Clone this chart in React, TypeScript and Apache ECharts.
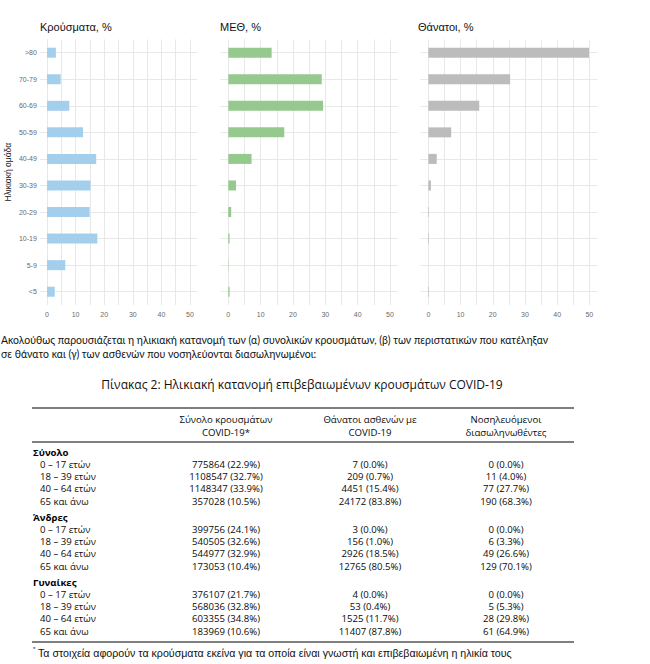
import React, { useEffect, useRef } from "react";
import * as echarts from "echarts";

const ageGroups = ["<5", "5-9", "10-19", "20-29", "30-39", "40-49", "50-59", "60-69", "70-79", ">80"];
const casesPct = [2.7, 6.4, 17.6, 14.9, 15.2, 17.2, 12.6, 7.8, 4.8, 3.1];
const icuPct = [0.4, 0.1, 0.4, 0.9, 2.4, 7.2, 17.3, 29.3, 28.9, 13.4];
const deathsPct = [0.2, 0.0, 0.2, 0.2, 0.8, 2.6, 7.1, 15.8, 25.4, 49.9];
const panelTitles = ["Κρούσματα, %", "ΜΕΘ, %", "Θάνατοι, %"];
const xTicks = [0, 10, 20, 30, 40, 50];
const xGrid = [0, 5, 10, 15, 20, 25, 30, 35, 40, 45, 50];

const introLines = [
  "Ακολούθως παρουσιάζεται η ηλικιακή κατανομή των (α) συνολικών κρουσμάτων, (β) των περιστατικών που κατέληξαν",
  "σε θάνατο και (γ) των ασθενών που νοσηλεύονται διασωληνωμένοι:",
];
const tableTitle = "Πίνακας 2: Ηλικιακή κατανομή επιβεβαιωμένων κρουσμάτων COVID-19";
const colHeaders = [
  ["Σύνολο κρουσμάτων", "COVID-19*"],
  ["Θάνατοι ασθενών με", "COVID-19"],
  ["Νοσηλευόμενοι", "διασωληνωθέντες"],
];
const groupLabels = ["Σύνολο", "Άνδρες", "Γυναίκες"];
const rowLabels = ["0 – 17 ετών", "18 – 39 ετών", "40 – 64 ετών", "65 και άνω"];
// [group][row]
const casesN = [
  [775864, 1108547, 1148347, 357028],
  [399756, 540505, 544977, 173053],
  [376107, 568036, 603355, 183969],
];
const casesP = [
  [22.9, 32.7, 33.9, 10.5],
  [24.1, 32.6, 32.9, 10.4],
  [21.7, 32.8, 34.8, 10.6],
];
const deathsN = [
  [7, 209, 4451, 24172],
  [3, 156, 2926, 12765],
  [4, 53, 1525, 11407],
];
const deathsP = [
  [0.0, 0.7, 15.4, 83.8],
  [0.0, 1.0, 18.5, 80.5],
  [0.0, 0.4, 11.7, 87.8],
];
const intubN = [
  [0, 11, 77, 190],
  [0, 6, 49, 129],
  [0, 5, 28, 61],
];
const intubP = [
  [0.0, 4.0, 27.7, 68.3],
  [0.0, 3.3, 26.6, 70.1],
  [0.0, 5.3, 29.8, 64.9],
];
const footnote = "Τα στοιχεία αφορούν τα κρούσματα εκείνα για τα οποία είναι γνωστή και επιβεβαιωμένη η ηλικία τους";

function fitSize(text: string, family: string, target: number, weight = "normal") {
  const ctx = document.createElement("canvas").getContext("2d");
  if (!ctx) return 10;
  ctx.font = `${weight} 20px ${family}`;
  const w = ctx.measureText(text).width;
  return (20 * target) / w;
}

export default function App() {
  const ref = useRef<HTMLDivElement>(null);
  useEffect(() => {
    if (!ref.current) return;
    const chart = echarts.init(ref.current, undefined, { renderer: "svg" });

    const panels = [
      { left: 39.85, width: 157.3, data: casesPct, color: "#a3cfec", titleX: 40 },
      { left: 220.2, width: 177.9, data: icuPct, color: "#96c98e", titleX: 220 },
      { left: 420.3, width: 177.1, data: deathsPct, color: "#bcbcbc", titleX: 418 },
    ];
    const gridTop = 39.4;
    const gridH = 265.6;
    const gridColor = "#e8e8e8";

    const grids: any[] = [];
    const xAxes: any[] = [];
    const yAxes: any[] = [];
    const series: any[] = [];
    const graphics: any[] = [];

    panels.forEach((p, i) => {
      grids.push({ left: p.left, width: p.width, top: gridTop, height: gridH, containLabel: false });
      xAxes.push({
        type: "value",
        gridIndex: i,
        min: -2.5,
        max: 52.5,
        axisLine: { show: false },
        axisTick: { show: false, customValues: xGrid },
        axisLabel: { customValues: xTicks, fontSize: 7, color: "#6a6a6a", margin: 6, fontFamily: "Liberation Sans" },
        splitLine: { show: true, lineStyle: { color: gridColor, width: 1 } },
      });
      yAxes.push({
        type: "category",
        gridIndex: i,
        data: ageGroups,
        axisLine: { show: false },
        axisTick: { show: false },
        splitLine: { show: false },
        axisLabel: {
          show: i === 0,
          fontSize: 7,
          color: "#6a6a6a",
          margin: 3,
          fontFamily: "Liberation Sans",
        },
        name: i === 0 ? "Ηλικιακή ομάδα" : "",
        nameLocation: "middle",
        nameRotate: 90,
        nameGap: 27,
        nameTextStyle: { fontSize: 8.5, color: "#222", fontFamily: "Liberation Sans" },
      });
      yAxes.push({
        type: "value",
        gridIndex: i,
        min: 0,
        max: 10,
        position: "right",
        axisLine: { show: false },
        axisTick: { show: false, customValues: [0.5, 1.5, 2.5, 3.5, 4.5, 5.5, 6.5, 7.5, 8.5, 9.5] },
        axisLabel: { show: false },
        splitLine: { show: true, lineStyle: { color: gridColor, width: 1 } },
      });
      series.push({
        type: "bar",
        xAxisIndex: i,
        yAxisIndex: i * 2,
        data: p.data,
        barWidth: 10,
        itemStyle: { color: p.color },
        silent: true,
      });
      graphics.push({
        type: "text",
        x: p.titleX,
        y: 27,
        style: {
          text: panelTitles[i],
          fontSize: 11,
          fontFamily: "Liberation Sans",
          fill: "#111",
          verticalAlign: "middle",
        },
      });
    });

    // Intro paragraph
    const introFamily = "Lato";
    const introSize = fitSize(introLines[0], introFamily, 548);
    introLines.forEach((t, k) => {
      graphics.push({
        type: "text",
        x: 1,
        y: 340 + k * 14,
        style: { text: t, fontSize: introSize, fontFamily: introFamily, fill: "#111", verticalAlign: "middle" },
      });
    });

    // Table title
    const titleSize = fitSize(tableTitle, "Open Sans", 402);
    graphics.push({
      type: "text",
      x: 302,
      y: 384,
      style: {
        text: tableTitle,
        fontSize: titleSize,
        fontFamily: "Open Sans",
        fill: "#111",
        align: "center",
        verticalAlign: "middle",
      },
    });

    const tLeft = 32;
    const tRight = 574;
    const ruleColor = "#555";
    const rules = [408, 442, 642];
    rules.forEach((y) => {
      graphics.push({
        type: "line",
        shape: { x1: tLeft, y1: y, x2: tRight, y2: y },
        style: { stroke: ruleColor, lineWidth: 1.6 },
      });
    });

    const tableFamily = "Open Sans";
    const cellSize = 9.6;
    const cellFill = "#0a0a0a";
    const colX = [226, 370, 506];
    colHeaders.forEach((lines, c) => {
      lines.forEach((t, k) => {
        graphics.push({
          type: "text",
          x: colX[c],
          y: 419 + k * 13,
          style: {
            text: t,
            fontSize: cellSize,
            fontFamily: tableFamily,
            fill: cellFill,
            align: "center",
            verticalAlign: "middle",
          },
        });
      });
    });

    groupLabels.forEach((g, gi) => {
      const gy = 452 + gi * 65;
      graphics.push({
        type: "text",
        x: 33,
        y: gy,
        style: {
          text: g,
          fontSize: cellSize,
          fontWeight: "bold",
          fontFamily: tableFamily,
          fill: "#000",
          verticalAlign: "middle",
        },
      });
      rowLabels.forEach((r, ri) => {
        const ry = gy + 12.3 * (ri + 1);
        const cells = [
          `${casesN[gi][ri]} (${casesP[gi][ri].toFixed(1)}%)`,
          `${deathsN[gi][ri]} (${deathsP[gi][ri].toFixed(1)}%)`,
          `${intubN[gi][ri]} (${intubP[gi][ri].toFixed(1)}%)`,
        ];
        graphics.push({
          type: "text",
          x: 40,
          y: ry,
          style: { text: r, fontSize: cellSize, fontFamily: tableFamily, fill: cellFill, verticalAlign: "middle" },
        });
        cells.forEach((t, c) => {
          graphics.push({
            type: "text",
            x: colX[c],
            y: ry,
            style: {
              text: t,
              fontSize: cellSize,
              fontFamily: tableFamily,
              fill: cellFill,
              align: "center",
              verticalAlign: "middle",
            },
          });
        });
      });
    });

    // Footnote
    graphics.push({
      type: "text",
      x: 33,
      y: 649,
      style: { text: "*", fontSize: 6, fontFamily: "Liberation Sans", fill: "#111", verticalAlign: "middle" },
    });
    const footSize = fitSize(footnote, "Liberation Sans", 474);
    graphics.push({
      type: "text",
      x: 38,
      y: 653,
      style: { text: footnote, fontSize: footSize, fontFamily: "Liberation Sans", fill: "#111", verticalAlign: "middle" },
    });

    chart.setOption({
      animation: false,
      backgroundColor: "#ffffff",
      grid: grids,
      xAxis: xAxes,
      yAxis: yAxes,
      series,
      graphic: graphics,
    });
    return () => chart.dispose();
  }, []);
  return <div ref={ref} style={{ position: "absolute", left: 0, top: 0, width: 650, height: 664 }} />;
}
